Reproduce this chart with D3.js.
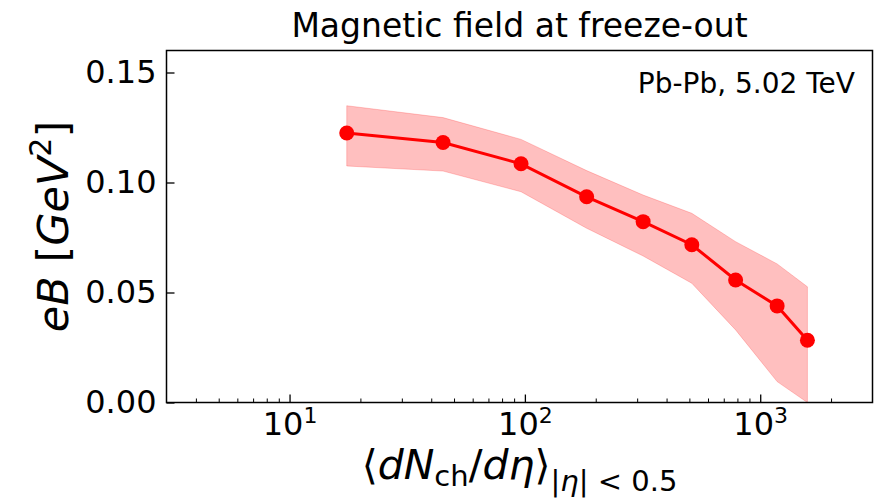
<!DOCTYPE html>
<html>
<head>
<meta charset="utf-8">
<script src="https://cdn.jsdelivr.net/npm/d3@7"></script>
<style>
  body { margin: 0; background: #fff; }
  svg text { font-family: "DejaVu Sans", sans-serif; }
</style>
</head>
<body>
<div id="chart"></div>
<script>
// charged multiplicity per centrality class (Pb-Pb 5.02 TeV)
const dNch = [17.5, 44.9, 96.3, 183, 318, 512, 786, 1180, 1587];
// eB at freeze-out, central value and band
const eB      = [0.1225, 0.1182, 0.1085, 0.0935, 0.0822, 0.0717, 0.0557, 0.0439, 0.0283];
const eBUpper = [0.1349, 0.1295, 0.1196, 0.1054, 0.0943, 0.0860, 0.0731, 0.0630, 0.0526];
const eBLower = [0.1075, 0.1052, 0.0958, 0.0792, 0.0666, 0.0542, 0.0330, 0.0095, 0.0000];

const yTicks = [0, 0.05, 0.10, 0.15];
const yTickLabels = ["0.00", "0.05", "0.10", "0.15"];
const xTicks = [10, 100, 1000];
const xTickExp = ["1", "2", "3"];
const xMinorTicks = [4, 5, 6, 7, 8, 9, 20, 30, 40, 50, 60, 70, 80, 90,
                     200, 300, 400, 500, 600, 700, 800, 900, 2000];

const FONT = "DejaVu Sans";
const W = 882, H = 499;
const margin = { top: 50.5, right: 9.5, bottom: 96.5, left: 166.5 };

const svg = d3.select("#chart")
    .append("svg")
    .attr("width", W)
    .attr("height", H)
    .attr("font-family", FONT);

const x = d3.scaleLog()
    .domain([3, 3000])
    .range([margin.left, W - margin.right]);

const y = d3.scaleLinear()
    .domain([0, 0.16])
    .range([H - margin.bottom, margin.top]);

const pts = dNch.map((d, i) => ({ x: d, y: eB[i], lo: eBLower[i], hi: eBUpper[i] }));

// band
svg.append("path")
    .datum(pts)
    .attr("d", d3.area()
        .x(d => x(d.x))
        .y0(d => y(d.lo))
        .y1(d => y(d.hi)))
    .attr("fill", "#ff0000")
    .attr("fill-opacity", 0.25)
    .attr("stroke", "#ff0000")
    .attr("stroke-opacity", 0.2)
    .attr("stroke-width", 1);

// line + markers
svg.append("path")
    .datum(pts)
    .attr("d", d3.line().x(d => x(d.x)).y(d => y(d.y)))
    .attr("fill", "none")
    .attr("stroke", "#ff0000")
    .attr("stroke-width", 3);

svg.append("g")
    .selectAll("circle")
    .data(pts)
    .join("circle")
    .attr("cx", d => x(d.x))
    .attr("cy", d => y(d.y))
    .attr("r", 7.5)
    .attr("fill", "#ff0000");

// axes, ticks pointing inwards
const xAxis = svg.append("g")
    .attr("transform", `translate(0,${H - margin.bottom})`)
    .call(d3.axisBottom(x).tickValues(xTicks).tickSize(-8).tickPadding(10).tickFormat(""));
xAxis.attr("font-family", FONT);
xAxis.select(".domain").remove();
xAxis.selectAll(".tick line").attr("stroke-width", 1.3);
xAxis.selectAll(".tick text")
    .attr("font-size", 32)
    .attr("fill", "#000")
    .attr("dy", "0.71em")
    .each(function (d, i) {
        const t = d3.select(this);
        t.append("tspan").text("10");
        t.append("tspan").attr("font-size", 22).attr("dy", -12).text(xTickExp[i]);
    });

svg.append("g")
    .attr("transform", `translate(0,${H - margin.bottom})`)
    .call(d3.axisBottom(x).tickValues(xMinorTicks).tickSize(-4).tickFormat(""))
    .call(g => g.select(".domain").remove())
    .selectAll(".tick line").attr("stroke-width", 1);

const yAxis = svg.append("g")
    .attr("transform", `translate(${margin.left},0)`)
    .call(d3.axisLeft(y).tickValues(yTicks).tickSize(-8).tickPadding(10)
        .tickFormat((d, i) => yTickLabels[i]));
yAxis.attr("font-family", FONT);
yAxis.select(".domain").remove();
yAxis.selectAll(".tick line").attr("stroke-width", 1.3);
yAxis.selectAll(".tick text").attr("font-size", 32).attr("fill", "#000");

// frame
svg.append("rect")
    .attr("x", margin.left)
    .attr("y", margin.top)
    .attr("width", W - margin.left - margin.right)
    .attr("height", H - margin.top - margin.bottom)
    .attr("fill", "none")
    .attr("stroke", "#000")
    .attr("stroke-width", 1.5);

// title
svg.append("text")
    .attr("x", (margin.left + W - margin.right) / 2)
    .attr("y", 37)
    .attr("text-anchor", "middle")
    .attr("font-size", 33)
    .text("Magnetic field at freeze-out");

// annotation
svg.append("text")
    .attr("x", 855)
    .attr("y", 93)
    .attr("text-anchor", "end")
    .attr("font-size", 28)
    .text("Pb-Pb, 5.02 TeV");

// y label
const yl = svg.append("text")
    .attr("transform", `translate(68,${(margin.top + H - margin.bottom) / 2}) rotate(-90)`)
    .attr("text-anchor", "middle")
    .attr("font-size", 43);
yl.append("tspan").attr("font-style", "italic").text("eB");
yl.append("tspan").text(" [");
yl.append("tspan").attr("font-style", "italic").text("GeV");
yl.append("tspan").attr("font-size", 30).attr("dy", -17).text("2");
yl.append("tspan").attr("dy", 17).text("]");

// x label
const xl = svg.append("text")
    .attr("x", (margin.left + W - margin.right) / 2)
    .attr("y", 479)
    .attr("text-anchor", "middle")
    .attr("font-size", 41);
xl.append("tspan").text("\u27E8");
xl.append("tspan").attr("font-style", "italic").text("dN");
xl.append("tspan").attr("font-size", 29).attr("dy", 7).text("ch");
xl.append("tspan").attr("dy", -7).text("/");
xl.append("tspan").attr("font-style", "italic").text("d\u03B7");
xl.append("tspan").text("\u27E9");
xl.append("tspan").attr("font-size", 29).attr("dy", 12).text("|");
xl.append("tspan").attr("font-size", 29).attr("font-style", "italic").text("\u03B7");
xl.append("tspan").attr("font-size", 29).text("| < 0.5");
</script>
</body>
</html>
